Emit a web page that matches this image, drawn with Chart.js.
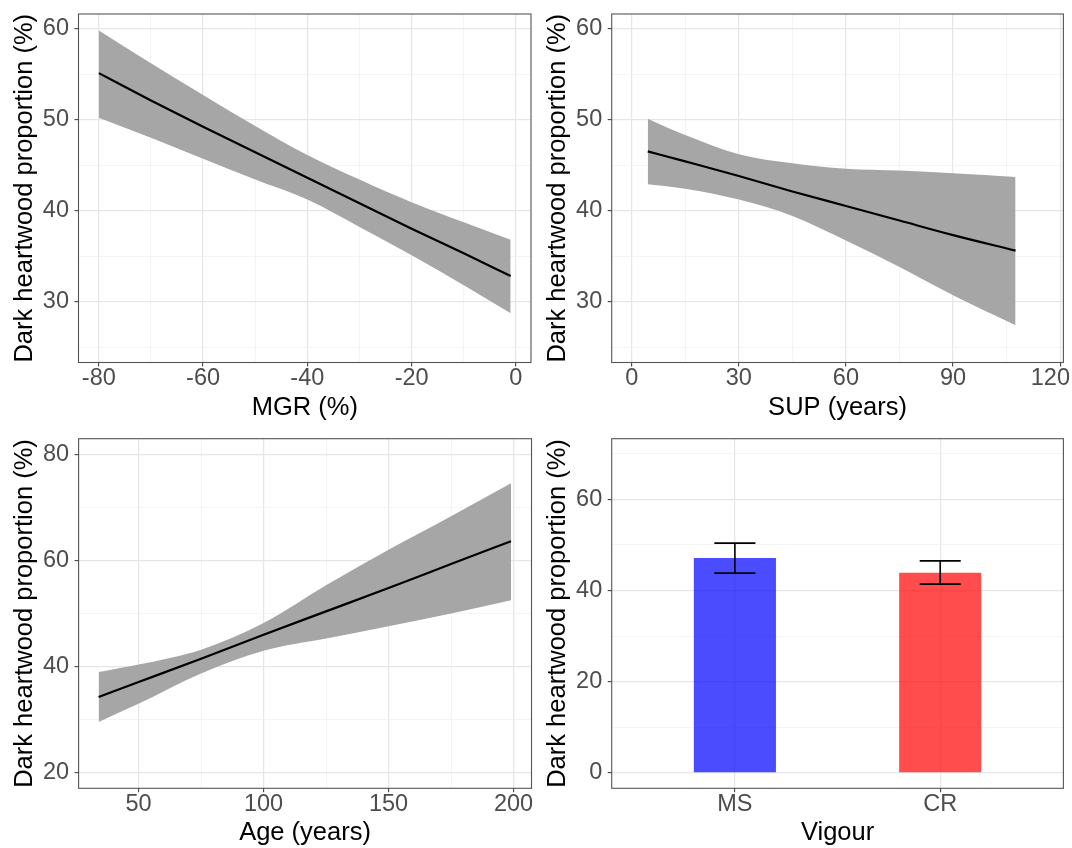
<!DOCTYPE html>
<html>
<head>
<meta charset="utf-8">
<script src="https://cdn.jsdelivr.net/npm/chart.js@4.4.1/dist/chart.umd.min.js"></script>
<style>
    html, body { margin:0; padding:0; background:#fff; }
    #wrap  { position:relative; width:1072px; height:848px; }
    .panel { position:absolute; width:536px; height:424px; }
</style>
</head>
<body>
<div id="wrap">
    <div class="panel" style="left:0;top:0"><canvas id="c-mgr" width="536" height="424"></canvas></div>
    <div class="panel" style="left:536px;top:0"><canvas id="c-sup" width="536" height="424"></canvas></div>
    <div class="panel" style="left:0;top:424px"><canvas id="c-age" width="536" height="424"></canvas></div>
    <div class="panel" style="left:536px;top:424px"><canvas id="c-vig" width="536" height="424"></canvas></div>
</div>
<script>
// ── Data ──────────────────────────────────────────────────────────────
const mgrX    = [-80, -70, -60, -50, -40, -30, -20, -10, -1];
const mgrFit  = [55.1, 52.1, 49.2, 46.4, 43.6, 40.8, 38.0, 35.3, 32.8];
const mgrLow  = [50.2, 48.0, 45.7, 43.4, 41.2, 38.2, 35.1, 31.8, 28.7];
const mgrHigh = [59.8, 56.2, 52.7, 49.3, 46.1, 43.4, 40.9, 38.7, 36.8];

const supX    = [4.5, 15, 30, 45, 60, 75, 90, 107.5];
const supFit  = [46.5, 45.4, 43.8, 42.1, 40.5, 38.9, 37.3, 35.6];
const supLow  = [42.9, 42.4, 41.2, 39.4, 36.7, 33.8, 30.7, 27.4];
const supHigh = [50.1, 48.3, 46.2, 45.2, 44.6, 44.4, 44.1, 43.7];

const ageX    = [34, 50, 75, 100, 125, 150, 175, 199];
const ageFit  = [34.3, 37.1, 41.5, 46.0, 50.4, 54.8, 59.3, 63.6];
const ageLow  = [29.6, 33.0, 38.7, 43.0, 45.3, 47.6, 50.0, 52.5];
const ageHigh = [39.0, 40.4, 43.2, 48.2, 55.3, 62.0, 68.3, 74.5];

const vigourLabels = ['MS', 'CR'];
const vigourMean   = [47.1, 43.9];
const vigourLow    = [43.8, 41.4];
const vigourHigh   = [50.4, 46.5];

// ── Ticks / ranges ────────────────────────────────────────────────────
const mgrTicks  = [-80, -60, -40, -20, 0];  const mgrMinor  = [-70, -50, -30, -10];
const supTicks  = [0, 30, 60, 90, 120];     const supMinor  = [15, 45, 75, 105];
const ageTicks  = [50, 100, 150, 200];      const ageMinor  = [75, 125, 175];
const propTicks = [30, 40, 50, 60];         const propMinor = [25, 35, 45, 55];
const ageYTicks = [20, 40, 60, 80];         const ageYMinor = [30, 50, 70];
const barYTicks = [0, 20, 40, 60];          const barYMinor = [10, 30, 50, 70];

const mgrRange  = [-83.9, 2.9];
const supRange  = [-5.6, 120.9];
const ageRange  = [26.0, 207.2];
const propRange = [23.3, 61.6];
const ageYRange = [17.1, 82.9];
const barXRange = [0.4, 2.6];
const barYRange = [-3.4, 73.3];

const Y_TITLE = 'Dark heartwood proportion (%)';

// ── Style ─────────────────────────────────────────────────────────────
const FONT       = '"Liberation Sans", Arial, Helvetica, sans-serif';
const TICK_FONT  = { family: FONT, size: 23.5, lineHeight: 1 };
const TITLE_FONT = { family: FONT, size: 25.5, lineHeight: 1 };
const BAND       = '#a6a6a6';

const framePlugin = {
    id: 'frame',
    afterDatasetsDraw(chart) {
        const { ctx, chartArea: a } = chart;
        ctx.save();
        ctx.strokeStyle = '#555';
        ctx.lineWidth = 1.1;
        ctx.strokeRect(a.left, a.top, a.right - a.left, a.bottom - a.top);
        ctx.restore();
    }
};

const errorBarPlugin = {
    id: 'errorBars',
    afterDatasetsDraw(chart, args, opts) {
        const { ctx, scales: { x, y } } = chart;
        ctx.save();
        ctx.strokeStyle = '#000';
        ctx.lineWidth = 1.6;
        opts.low.forEach((lo, i) => {
            const xv = opts.xs[i];
            const xc = x.getPixelForValue(xv);
            const xl = x.getPixelForValue(xv - opts.cap);
            const xr = x.getPixelForValue(xv + opts.cap);
            const yl = y.getPixelForValue(lo);
            const yh = y.getPixelForValue(opts.high[i]);
            ctx.beginPath();
            ctx.moveTo(xc, yl); ctx.lineTo(xc, yh);
            ctx.moveTo(xl, yl); ctx.lineTo(xr, yl);
            ctx.moveTo(xl, yh); ctx.lineTo(xr, yh);
            ctx.stroke();
        });
        ctx.restore();
    }
};

// ── Axis builder ──────────────────────────────────────────────────────
function axis(o) {
    const all     = o.major.concat(o.minor).sort((a, b) => a - b);
    const isMajor = v => o.major.includes(v);
    const horiz   = o.position === 'bottom';
    const label   = v => {
        const txt = o.labels ? o.labels[o.major.indexOf(v)] : String(v);
        // last label sits at the figure edge: nudge it left like the original
        return (o.padEnd && v === o.major[o.major.length - 1]) ? txt + '   ' : txt;
    };
    return {
        type: 'linear',
        position: o.position,
        min: o.range[0],
        max: o.range[1],
        offset: false,
        afterBuildTicks: s => { s.ticks = all.map(v => ({ value: v })); },
        afterFit: s => {
            if (horiz) { s.height = o.size; s.paddingLeft = 0; s.paddingRight = 0; }
            else       { s.width  = o.size; s.paddingTop  = 0; s.paddingBottom = 0; }
        },
        ticks: {
            autoSkip: false,
            maxRotation: 0,
            color: '#4d4d4d',
            font: TICK_FONT,
            padding: horiz ? 0 : 5.5,
            callback: v => isMajor(v) ? label(v) : ''
        },
        grid: {
            offset: false,
            color:     c => isMajor(c.tick.value) ? '#e6e6e6' : '#efefef',
            lineWidth: c => isMajor(c.tick.value) ? 1.2 : 0.7,
            tickColor: c => isMajor(c.tick.value) ? '#444' : 'rgba(0,0,0,0)',
            tickWidth: 1.1,
            tickLength: 4
        },
        border: { display: false },
        title: {
            display: true,
            text: o.title,
            color: '#000',
            font: TITLE_FONT,
            padding: horiz ? { top: 0, bottom: o.titlePad } : { top: o.titlePad, bottom: 0 }
        }
    };
}

function baseOptions(p) {
    return {
        responsive: false,
        animation: false,
        events: [],
        layout: { padding: { left: 0, top: p.top, right: p.right, bottom: 0 } },
        plugins: { legend: { display: false }, tooltip: { enabled: false } }
    };
}

function points(xs, ys) {
    return xs.map((x, i) => ({ x, y: ys[i] }));
}

function bandChart(id, xs, fit, low, high, xAxis, yAxis, p) {
    const line = { pointRadius: 0, cubicInterpolationMode: 'monotone' };
    new Chart(document.getElementById(id), {
        type: 'line',
        data: {
            datasets: [
                { ...line, order: 2, data: points(xs, high), fill: '+1', backgroundColor: BAND, borderColor: 'rgba(0,0,0,0)', borderWidth: 0 },
                { ...line, order: 1, data: points(xs, low),  fill: false, borderColor: 'rgba(0,0,0,0)', borderWidth: 0 },
                { ...line, order: 0, data: points(xs, fit),  fill: false, borderColor: '#000', borderWidth: 2.2 }
            ]
        },
        options: { ...baseOptions(p), scales: { x: axis(xAxis), y: axis(yAxis) } },
        plugins: [framePlugin]
    });
}

// ── Panels ────────────────────────────────────────────────────────────
bandChart('c-mgr', mgrX, mgrFit, mgrLow, mgrHigh,
    { position: 'bottom', range: mgrRange, major: mgrTicks, minor: mgrMinor, title: 'MGR (%)', size: 61.5, titlePad: 3.25 },
    { position: 'left', range: propRange, major: propTicks, minor: propMinor, title: Y_TITLE, size: 78.5, titlePad: 11.75 },
    { top: 14, right: 5 });

bandChart('c-sup', supX, supFit, supLow, supHigh,
    { position: 'bottom', range: supRange, major: supTicks, minor: supMinor, title: 'SUP (years)', size: 61.5, titlePad: 3.25, padEnd: true },
    { position: 'left', range: propRange, major: propTicks, minor: propMinor, title: Y_TITLE, size: 75.7, titlePad: 9.25 },
    { top: 14, right: 8.6 });

bandChart('c-age', ageX, ageFit, ageLow, ageHigh,
    { position: 'bottom', range: ageRange, major: ageTicks, minor: ageMinor, title: 'Age (years)', size: 59.7, titlePad: 2.25 },
    { position: 'left', range: ageYRange, major: ageYTicks, minor: ageYMinor, title: Y_TITLE, size: 78.6, titlePad: 11.75 },
    { top: 14.7, right: 4.5 });

// Vigour bars: categories sit at 1, 2 on a numeric axis so spacing matches ggplot
const vigourX = vigourLabels.map((_, i) => i + 1);
new Chart(document.getElementById('c-vig'), {
    type: 'bar',
    data: {
        datasets: [{
            data: points(vigourX, vigourMean),
            backgroundColor: ['rgba(0,0,255,0.7)', 'rgba(255,0,0,0.7)'],
            borderWidth: 0,
            barPercentage: 0.4,
            categoryPercentage: 1
        }]
    },
    options: {
        ...baseOptions({ top: 14.7, right: 8.6 }),
        scales: {
            x: axis({ position: 'bottom', range: barXRange, major: vigourX, minor: [], labels: vigourLabels, title: 'Vigour', size: 59.7, titlePad: 2.25 }),
            y: axis({ position: 'left', range: barYRange, major: barYTicks, minor: barYMinor, title: Y_TITLE, size: 75.7, titlePad: 9.25 })
        },
        plugins: {
            legend: { display: false },
            tooltip: { enabled: false },
            errorBars: { xs: vigourX, low: vigourLow, high: vigourHigh, cap: 0.1 }
        }
    },
    plugins: [framePlugin, errorBarPlugin]
});
</script>
</body>
</html>
